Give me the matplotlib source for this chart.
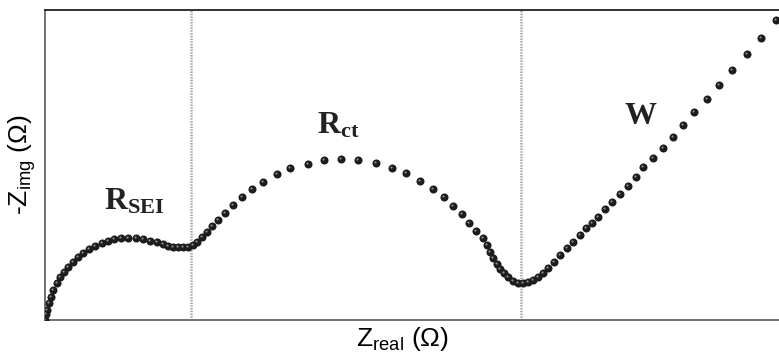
import numpy as np
import matplotlib
matplotlib.use('Agg')
import matplotlib.pyplot as plt
import matplotlib.transforms as mtransforms

plt.rcParams['mathtext.fontset'] = 'custom'
plt.rcParams['mathtext.rm'] = 'Liberation Sans'
plt.rcParams['mathtext.it'] = 'Liberation Sans:italic'
plt.rcParams['mathtext.bf'] = 'Liberation Serif:bold'
plt.rcParams['font.family'] = ['Liberation Sans', 'DejaVu Sans']

# Nyquist data (arbitrary ohm units)
z_real = [0, 1, 2, 4, 6, 8, 12, 15, 19, 23, 28, 33, 38, 44, 50, 57, 63, 69, 76, 83,
          91, 98, 105, 112, 118, 123, 128, 133, 138, 143, 148, 152, 157, 162, 167, 173,
          180, 188, 197, 207, 218, 232, 245, 263, 279, 296, 313, 331, 347, 361, 375,
          388, 399, 408, 417, 424, 431, 438, 442, 445, 448, 452, 455, 459, 463, 468,
          473, 478, 483, 488, 493, 498, 503, 509, 515, 522, 528, 535, 541, 547, 553,
          560, 567, 575, 583, 591, 598, 608, 618, 628, 638, 649, 662, 674, 687, 702,
          716, 731]
z_img = [0, 6, 10, 17, 23, 30, 37, 43, 48, 53, 58, 63, 67, 71, 74, 77, 79, 81, 82, 82,
         82, 81, 79, 78, 76, 74, 73, 73, 73, 73, 75, 78, 83, 88, 94, 100,
         107, 115, 123, 131, 138, 146, 152, 156, 160, 161, 160, 157, 152, 147, 139,
         131, 123, 114, 106, 97, 89, 82, 75, 68, 62, 56, 51, 47, 43, 39,
         37, 37, 38, 40, 43, 47, 52, 58, 65, 72, 78, 85, 92, 97, 103,
         111, 118, 126, 134, 143, 153, 162, 172, 183, 195, 208, 221, 235, 250, 266,
         282, 300]

# boundaries between the regions
bounds = [146, 476]
labels = [r'$\mathbf{R_{SEI}}$', r'$\mathbf{R_{ct}}$', r'$\mathbf{W}$']
label_x = [89, 293, 596]
label_y = [110, 187, 196]

fig = plt.figure(figsize=(7.79, 3.56), dpi=100)
ax = fig.add_axes([45/779, 36/356, 1 - 45/779, 310/356])

for b in bounds:
    ax.axvline(b, color='#a8a8a8', lw=1.8, ls=(0, (0.6, 0.5)), zorder=1)

ax.plot(z_real, z_img, 'o', color='#1c1c1c', ms=5.8, mec='none', zorder=3)
# little highlight on each dot
hl = ax.transData + mtransforms.ScaledTranslation(-1/100, 1/100, fig.dpi_scale_trans)
ax.plot(z_real, z_img, 'o', color='#8a8a8a', ms=1.6, mec='none', transform=hl, zorder=4)

for t, x, y in zip(labels, label_x, label_y):
    ax.text(x, y, t, fontsize=23, ha='center', va='baseline', color='#222222')

ax.set_xlim(0, 734)
ax.set_ylim(0, 310)
ax.set_xticks([])
ax.set_yticks([])
ax.spines['right'].set_visible(False)
ax.spines['top'].set_color('#222222')
ax.spines['left'].set_color('#666666')
ax.spines['bottom'].set_color('#666666')
for s in ax.spines.values():
    s.set_linewidth(1.3)

fig.text(402/779, 1 - 346/356, r'Z$_{\mathrm{real}}$ (Ω)', fontsize=19,
         ha='center', va='baseline')
fig.text(22/779, 1 - 165/356, r'-Z$_{\mathrm{img}}$ (Ω)', fontsize=19,
         ha='center', va='center', rotation=90)

fig.savefig('out.png', dpi=100)
